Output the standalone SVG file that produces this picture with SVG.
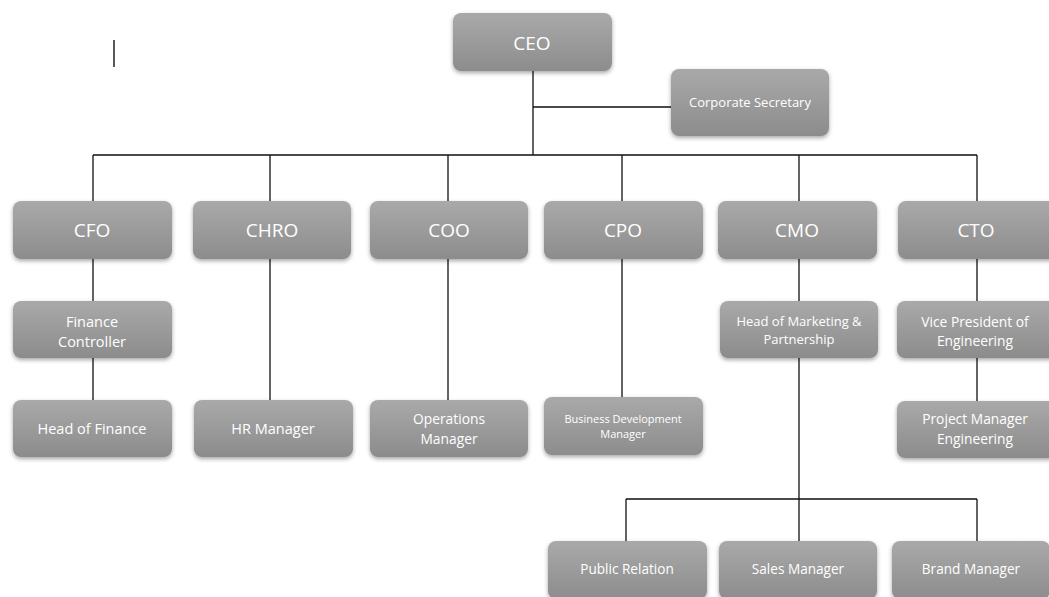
<svg xmlns="http://www.w3.org/2000/svg" width="1049" height="597" viewBox="0 0 1049 597">
<defs>
<linearGradient id="g" x1="0" y1="0" x2="0" y2="1">
<stop offset="0" stop-color="#a9a9a9"/>
<stop offset="1" stop-color="#8c8c8c"/>
</linearGradient>
<filter id="sh" x="-10%" y="-10%" width="120%" height="130%">
<feDropShadow dx="0" dy="2" stdDeviation="2" flood-color="#000" flood-opacity="0.35"/>
</filter>
</defs>
<style>
.box{fill:url(#g);filter:url(#sh)}
text{fill:#fff;font-family:"Open Sans","Noto Sans",sans-serif;text-anchor:middle}
.l{font-size:19px}
.m{font-size:13px}
.b{font-size:14.5px}
.p{font-size:13.8px}
.r{font-size:13.6px}
.s{font-size:11px}
.c{stroke:#111;stroke-width:1.3;fill:none}
</style>
<rect width="1049" height="597" fill="#fff"/>
<line x1="114" y1="40" x2="114" y2="67" stroke="#222" stroke-width="1.5"/>
<g id="connectors" class="c">
<path d="M533 71V155M533 107H671M93 155H977M93 155V201M270 155V201M448 155V201M622 155V201M799 155V201M977 155V201"/>
<path d="M93 259V301M93 358V400M270 259V400M448 259V400M622 259V397M799 259V301M799 358V541M977 259V301M977 358V401"/>
<path d="M626 499H977M626 499V541M977 499V541"/>
</g>
<g id="ceo"><rect class="box" x="453" y="13" width="159" height="58" rx="8"/><text class="l" x="532" y="50">CEO</text></g>
<g id="corporate-secretary"><rect class="box" x="671" y="69" width="158" height="67" rx="8"/><text class="m" x="750" y="107">Corporate Secretary</text></g>
<g id="cfo"><rect class="box" x="13" y="201" width="159" height="58" rx="8"/><text class="l" x="92" y="237">CFO</text></g>
<g id="chro"><rect class="box" x="193" y="201" width="158" height="58" rx="8"/><text class="l" x="272" y="237">CHRO</text></g>
<g id="coo"><rect class="box" x="370" y="201" width="158" height="58" rx="8"/><text class="l" x="449" y="237">COO</text></g>
<g id="cpo"><rect class="box" x="544" y="201" width="159" height="58" rx="8"/><text class="l" x="623" y="237">CPO</text></g>
<g id="cmo"><rect class="box" x="718" y="201" width="159" height="58" rx="8"/><text class="l" x="797" y="237">CMO</text></g>
<g id="cto"><rect class="box" x="898" y="201" width="160" height="58" rx="8"/><text class="l" x="976" y="237">CTO</text></g>
<g id="finance-controller"><rect class="box" x="13" y="301" width="159" height="57" rx="8"/><text class="b" x="92" y="327">Finance</text><text class="b" x="92" y="347">Controller</text></g>
<g id="head-marketing"><rect class="box" x="720" y="301" width="158" height="57" rx="8"/><text class="m" x="799" y="326">Head of Marketing &amp;</text><text class="m" x="799" y="344">Partnership</text></g>
<g id="vp-engineering"><rect class="box" x="897" y="301" width="160" height="57" rx="8"/><text class="p" x="975" y="327">Vice President of</text><text class="p" x="975" y="346">Engineering</text></g>
<g id="head-finance"><rect class="box" x="13" y="400" width="159" height="57" rx="8"/><text class="b" x="92" y="434">Head of Finance</text></g>
<g id="hr-manager"><rect class="box" x="194" y="400" width="159" height="57" rx="8"/><text class="b" x="273" y="434">HR Manager</text></g>
<g id="operations-manager"><rect class="box" x="370" y="400" width="158" height="57" rx="8"/><text class="p" x="449" y="424">Operations</text><text class="p" x="449" y="444">Manager</text></g>
<g id="business-development"><rect class="box" x="544" y="397" width="159" height="58" rx="8"/><text class="s" x="623" y="423">Business Development</text><text class="s" x="623" y="438">Manager</text></g>
<g id="project-manager"><rect class="box" x="897" y="401" width="160" height="57" rx="8"/><text class="p" x="975" y="424">Project Manager</text><text class="p" x="975" y="444">Engineering</text></g>
<g id="public-relation"><rect class="box" x="548" y="541" width="159" height="58" rx="8"/><text class="r" x="627" y="574">Public Relation</text></g>
<g id="sales-manager"><rect class="box" x="719" y="541" width="158" height="58" rx="8"/><text class="r" x="798" y="574">Sales Manager</text></g>
<g id="brand-manager"><rect class="box" x="892" y="541" width="158" height="58" rx="8"/><text class="r" x="971" y="574">Brand Manager</text></g>
</svg>
